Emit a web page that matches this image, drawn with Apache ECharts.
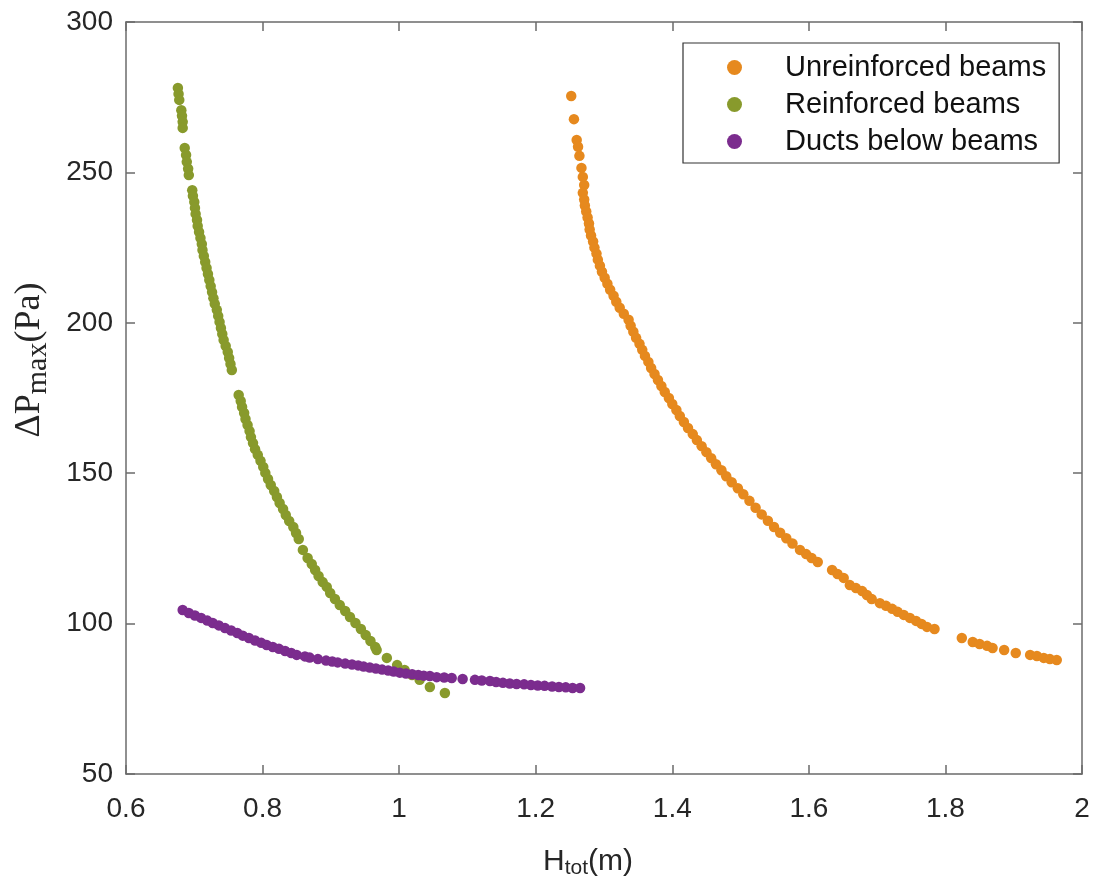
<!DOCTYPE html>
<html>
<head>
<meta charset="utf-8">
<script src="https://cdn.jsdelivr.net/npm/echarts@6/dist/echarts.min.js"></script>
<style>
html,body{margin:0;padding:0;background:#fff;}
#chart{width:1093px;height:879px;}
</style>
</head>
<body>
<div id="chart"></div>
<script>
// ---- Data ----
var seriesNames = ['Unreinforced beams', 'Reinforced beams', 'Ducts below beams'];
var xTicks = [0.6, 0.8, 1.0, 1.2, 1.4, 1.6, 1.8, 2.0];
var yTicks = [50, 100, 150, 200, 250, 300];

var unreinforced = [
  [1.252,275.4],[1.256,267.7],[1.260,260.8],[1.262,258.5],[1.264,255.5],[1.267,251.5],[1.269,248.5],[1.271,245.8],
  [1.269,243.2],[1.271,241],[1.272,239],[1.274,237],[1.276,235],[1.278,233],[1.279,231],[1.281,229],[1.284,227],
  [1.286,225],[1.289,223],[1.291,221],[1.294,219],[1.297,217],[1.301,215],[1.305,213],[1.309,211],[1.314,209],
  [1.318,207],[1.323,205],[1.329,203],[1.336,201],[1.339,199],[1.343,197],[1.347,195],[1.352,193],[1.356,191],
  [1.360,189],[1.365,187],[1.369,185],[1.374,183],[1.379,181],[1.384,179],[1.389,177],[1.395,175],[1.400,173],
  [1.406,171],[1.411,169],[1.417,167],[1.423,165],[1.430,163],[1.436,161],[1.443,159],[1.450,157],[1.457,155],
  [1.464,153],[1.472,151],[1.479,149],[1.487,147],[1.496,145],[1.504,143],[1.513,140.8],[1.522,138.5],[1.531,136.3],
  [1.540,134.2],[1.549,132.1],[1.558,130.2],[1.567,128.4],[1.576,126.6],[1.587,124.5],[1.596,123.1],[1.604,121.8],
  [1.613,120.5],[1.634,117.8],[1.642,116.5],[1.651,115.2],[1.660,112.8],[1.669,111.8],[1.678,110.8],[1.685,109.5],
  [1.692,108.2],[1.704,106.8],[1.713,105.9],[1.722,104.9],[1.730,103.9],[1.739,102.9],[1.748,101.9],[1.757,100.9],
  [1.765,99.9],[1.773,98.9],[1.784,98.2],[1.824,95.2],[1.840,93.9],[1.850,93.2],[1.861,92.6],[1.869,91.9],
  [1.886,91.2],[1.903,90.2],[1.924,89.6],[1.934,89.2],[1.944,88.6],[1.953,88.2],[1.963,87.9]
];

var reinforced = [
  [0.676,278.1],[0.677,276.1],[0.678,274.1],
  [0.681,270.7],[0.682,268.8],[0.683,266.8],[0.683,264.8],
  [0.686,258.1],[0.688,255.8],[0.689,253.5],[0.691,251.2],[0.692,249.1],
  [0.697,244.1],[0.698,242.2],[0.700,240.2],[0.701,238.2],[0.702,236.2],[0.704,234.2],[0.705,232.2],[0.707,230.2],
  [0.709,228.2],[0.711,226.2],[0.712,224.2],[0.714,222.2],[0.716,220.2],[0.718,218.2],[0.720,216.2],[0.722,214.2],
  [0.724,212.2],[0.726,210.2],[0.728,208.2],[0.730,206.3],[0.733,204.3],[0.735,202.3],[0.737,200.3],[0.739,198.3],
  [0.741,196.3],[0.743,194.3],[0.746,192.3],[0.749,190.3],[0.751,188.3],[0.753,186.3],[0.755,184.3],
  [0.765,176.0],[0.768,174.0],[0.770,172.0],[0.773,170.0],[0.775,168.0],[0.778,166.0],[0.781,164.0],[0.783,162.0],
  [0.786,160.0],[0.789,158.0],[0.793,156.1],[0.797,154.1],[0.801,152.1],[0.804,150.1],[0.808,148.1],[0.812,146.1],
  [0.817,144.1],[0.821,142.1],[0.825,140.1],[0.830,138.1],[0.834,136.1],[0.839,134.1],[0.845,132.1],[0.849,130.1],
  [0.853,128.1],[0.859,124.5],[0.866,121.8],[0.872,119.8],[0.877,117.8],[0.882,115.8],[0.888,113.8],[0.894,112.2],
  [0.899,110.2],[0.906,108.2],[0.913,106.2],[0.921,104.2],[0.928,102.2],[0.936,100.2],[0.944,98.2],[0.951,96.2],
  [0.958,94.2],[0.965,92.2],[0.967,91.2],[0.982,88.6],[0.997,86.2],[1.008,84.6],[1.019,82.9],[1.030,81.3],
  [1.045,78.9],[1.067,76.9]
];

var ducts = [
  [0.683,104.5],[0.692,103.5],[0.701,102.7],[0.710,101.9],[0.719,101.0],[0.727,100.2],[0.736,99.4],[0.745,98.5],
  [0.754,97.7],[0.763,96.9],[0.771,96.0],[0.780,95.2],[0.789,94.4],[0.798,93.6],[0.806,92.9],[0.815,92.2],
  [0.824,91.6],[0.833,90.9],[0.842,90.2],[0.850,89.6],[0.862,89.1],[0.869,88.7],[0.881,88.2],[0.893,87.7],
  [0.902,87.4],[0.910,87.1],[0.921,86.7],[0.931,86.4],[0.940,86.1],[0.948,85.7],[0.957,85.4],[0.966,85.1],
  [0.975,84.7],[0.984,84.4],[0.992,84.1],[1.001,83.7],[1.010,83.4],[1.019,83.2],[1.028,82.9],[1.036,82.7],
  [1.045,82.6],[1.055,82.2],[1.066,82.1],[1.077,81.9],[1.093,81.6],[1.111,81.3],[1.121,81.1],[1.133,80.9],
  [1.142,80.6],[1.152,80.3],[1.162,80.1],[1.172,79.9],[1.183,79.8],[1.193,79.6],[1.203,79.4],[1.213,79.3],
  [1.224,79.1],[1.234,78.9],[1.244,78.8],[1.254,78.6],[1.265,78.6]
];

var colors = ['#e6891e', '#889a2c', '#7b2c8e'];

// ---- Chart ----
var chart = echarts.init(document.getElementById('chart'), null, {renderer: 'canvas'});
var sansFont = 'Liberation Sans, Arial, sans-serif';
var serifFont = 'Liberation Serif, DejaVu Serif, serif';
var axisColor = '#6b6b6b';
var labelColor = '#262626';

function fmt(v) { return String(+Number(v).toFixed(1)); }

var xMin = xTicks[0], xMax = xTicks[xTicks.length - 1];
var yMin = yTicks[0], yMax = yTicks[yTicks.length - 1];

function baseAxis(isX, pos, show) {
  return {
    type: 'value',
    position: pos,
    min: isX ? xMin : yMin,
    max: isX ? xMax : yMax,
    interval: isX ? 0.2 : 50,
    axisLine: {show: true, onZero: false, lineStyle: {color: axisColor, width: 1.5}},
    axisTick: {show: true, inside: true, length: 9, lineStyle: {color: axisColor, width: 1.5}},
    axisLabel: {
      show: show,
      color: labelColor,
      fontFamily: sansFont,
      fontSize: 28,
      margin: isX ? 21 : 13,
      formatter: fmt
    },
    splitLine: {show: false}
  };
}

var series = [unreinforced, reinforced, ducts].map(function (d, i) {
  return {
    name: seriesNames[i],
    type: 'scatter',
    data: d,
    symbol: 'circle',
    symbolSize: 10.5,
    itemStyle: {color: colors[i], opacity: 1},
    xAxisIndex: 0,
    yAxisIndex: 0,
    z: 2 + i
  };
});

var option = {
  backgroundColor: '#ffffff',
  animation: false,
  color: colors,
  grid: {left: 126, right: 11, top: 22, bottom: 105, containLabel: false},
  xAxis: [baseAxis(true, 'bottom', true), baseAxis(true, 'top', false)],
  yAxis: [baseAxis(false, 'left', true), baseAxis(false, 'right', false)],
  legend: {
    orient: 'vertical',
    left: 683,
    top: 43,
    padding: [10, 13, 7, 44],
    itemWidth: 15,
    itemHeight: 15,
    itemGap: 8,
    icon: 'circle',
    backgroundColor: '#ffffff',
    borderColor: '#333333',
    borderWidth: 1.2,
    textStyle: {fontFamily: sansFont, fontSize: 29, color: '#111111', lineHeight: 28, padding: [0, 0, 0, 38]},
    data: seriesNames
  },
  graphic: [
    {
      type: 'text',
      x: 588,
      y: 862,
      style: {
        text: '{a|H}{b|tot}{a|(m)}',
        align: 'center',
        verticalAlign: 'middle',
        rich: {
          a: {fontFamily: sansFont, fontSize: 30, fill: labelColor, color: labelColor},
          b: {fontFamily: sansFont, fontSize: 21, fill: labelColor, color: labelColor, padding: [13, 0, 0, 0]}
        }
      }
    },
    {
      type: 'text',
      x: 30,
      y: 360,
      rotation: Math.PI / 2,
      style: {
        text: '{a|ΔP}{b|max}{a|(Pa)}',
        align: 'center',
        verticalAlign: 'middle',
        rich: {
          a: {fontFamily: serifFont, fontSize: 36, fill: labelColor, color: labelColor},
          b: {fontFamily: serifFont, fontSize: 30, fill: labelColor, color: labelColor, padding: [17, 0, 0, 0]}
        }
      }
    }
  ],
  series: series
};

chart.setOption(option);
</script>
</body>
</html>
